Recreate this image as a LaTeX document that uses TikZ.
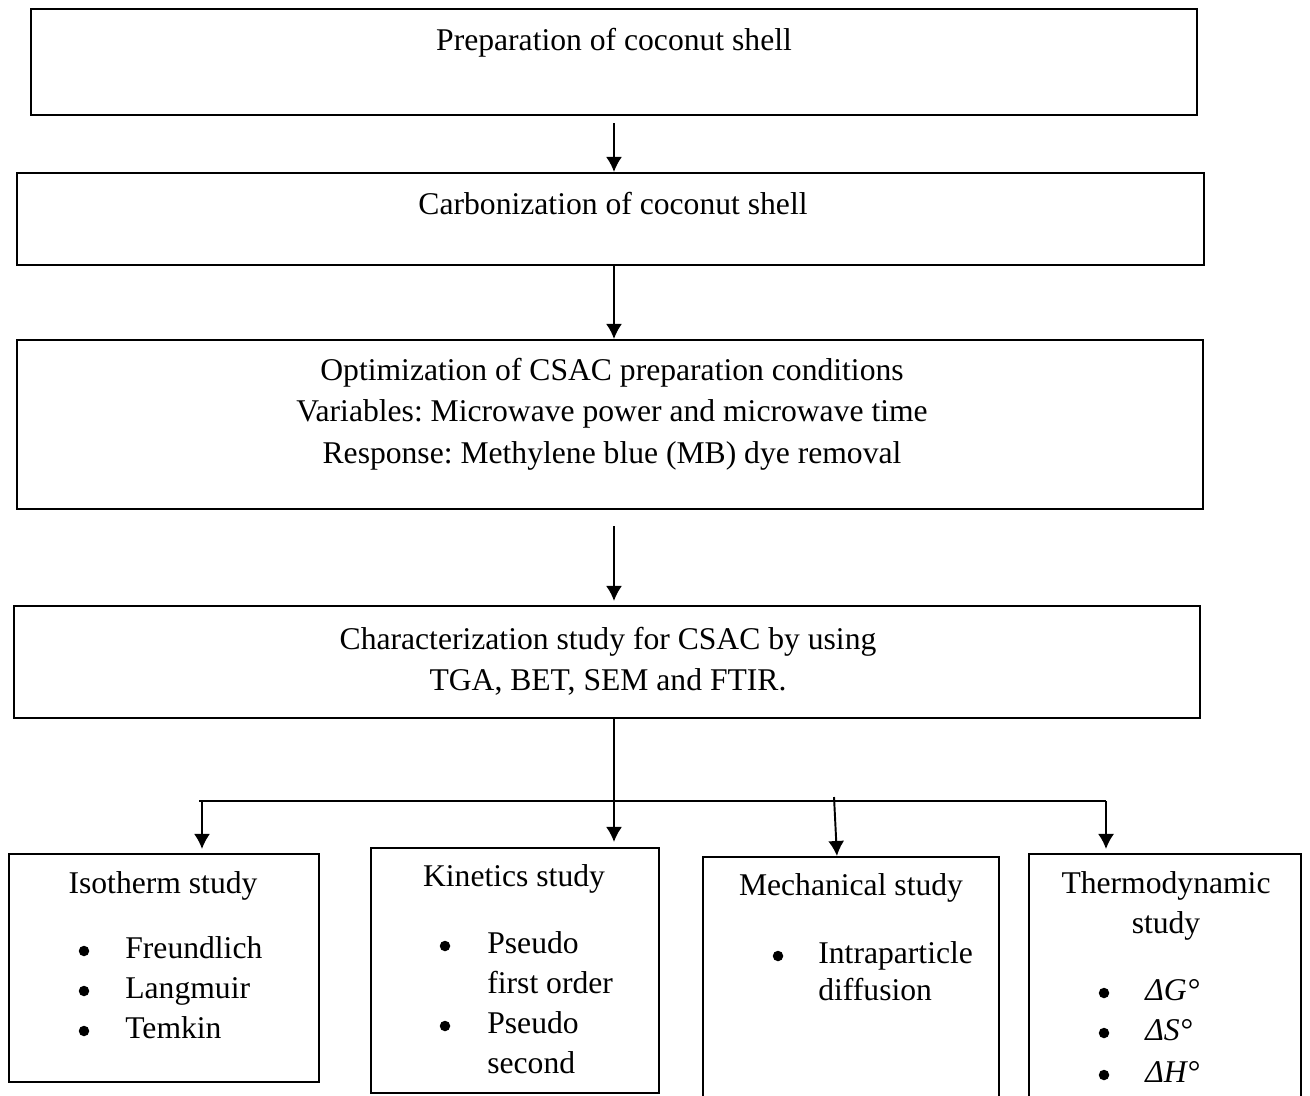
\documentclass[tikz,border=0pt]{standalone}
\usepackage{fontspec}
\setmainfont{Liberation Serif}
\usetikzlibrary{arrows.meta,positioning}
\frenchspacing

\begin{document}
\begin{tikzpicture}[x=0.02cm,y=-0.02cm,
  box/.style={draw,line width=1.2pt,inner sep=0pt},
  txt/.style={font=\fontsize{18pt}{23.5pt}\selectfont,inner sep=0pt,align=center},
  item/.style={txt,anchor=west,text height=1.5ex,text depth=.25ex,yshift=-0.1cm},
  bul/.style={circle,fill,inner sep=0pt,minimum size=0.21cm,yshift=-0.06cm},
  arr/.style={-{Latex[length=0.3cm,width=0.32cm]},line width=1.1pt}]
\clip (0,0) rectangle (1310,1095);

% main steps
\node[box,minimum width=23.32cm,minimum height=2.12cm] (prep) at (614,62) {};
\node[box,minimum width=23.74cm,minimum height=1.84cm] (carb) at (610.5,219) {};
\node[box,minimum width=23.72cm,minimum height=3.38cm] (opt) at (610,424.5) {};
\node[box,minimum width=23.72cm,minimum height=2.24cm] (char) at (607,662) {};

\node[txt] (preptxt) at (614,43) {Preparation of coconut shell};
\node[txt] (carbtxt) at (613,204) {Carbonization of coconut shell};
\node[txt] (opttxt) at (612,414) {Optimization of CSAC preparation conditions\\
  Variables: Microwave power and microwave time\\
  Response: Methylene blue (MB) dye removal};
\node[txt] (chartxt) at (608,661) {Characterization study for CSAC by using\\
  TGA, BET, SEM and FTIR.};

% studies
\node[box,minimum width=6.2cm,minimum height=4.56cm] (iso) at (164,968) {};
\node[box,minimum width=5.76cm,minimum height=4.9cm] (kin) at (515,970.5) {};
\node[box,minimum width=5.92cm,minimum height=5.16cm] (mech) at (851,986) {};
\node[box,minimum width=5.44cm,minimum height=5.22cm] (thermo) at (1165,984.5) {};

\node[txt] (isohd) at (163,886) {Isotherm study};
\foreach \n/\y/\t in {1/948/Freundlich,2/988/Langmuir,3/1028/Temkin}{
  \node[bul] (isob\n) at (84,\y) {};
  \node[item] (iso\n) at (125,\y) {\t};
}

\node[txt] (kinhd) at (514,879) {Kinetics study};
\node[bul] (kinb1) at (445,943) {};
\node[bul] (kinb2) at (445,1023) {};
\foreach \n/\y/\t in {1/943/Pseudo,2/983/first order,3/1023/Pseudo,4/1063/second}{
  \node[item] (kin\n) at (487,\y) {\t};
}

\node[txt] (mechhd) at (851,888) {Mechanical study};
\node[bul] (mechb1) at (778,953) {};
\node[item] (mech1) at (818,953) {Intraparticle};
\node[item] (mech2) at (818,990) {diffusion};

\node[txt,font=\fontsize{18pt}{22.7pt}\selectfont] (thermohd) at (1166,906) {Thermodynamic\\study};
\foreach \n/\y/\t in {1/990/G,2/1030/S,3/1072/H}{
  \node[bul] (thermob\n) at (1104,\y) {};
  \node[item] (thermo\n) at (1145,\y) {\textit{Δ\t°}};
}

% connectors
\coordinate (spine) at (614,0);
\coordinate (busL) at (202,801);
\coordinate (busR) at (1106,801);
\coordinate (mtop) at (834,797);
\coordinate (mbot) at (837,857);
\draw[arr,shorten <=0.14cm] (prep.south -| spine) -- (carb.north -| spine);
\draw[arr] (carb.south -| spine) -- (opt.north -| spine);
\draw[arr,shorten <=0.32cm,shorten >=0.08cm] (opt.south -| spine) -- (char.north -| spine);
\draw[arr,shorten >=0.1cm] (char.south -| spine) -- (kin.north -| spine);
\draw[line width=1.1pt] ([xshift=-0.06cm]busL) -- (busR);
\draw[arr,shorten >=0.08cm] (busL) -- (iso.north -| busL);
\draw[arr,shorten >=0.02cm] (mtop) -- (mbot);
\draw[arr,shorten >=0.08cm] (busR) -- (thermo.north -| busR);
\end{tikzpicture}
\end{document}
